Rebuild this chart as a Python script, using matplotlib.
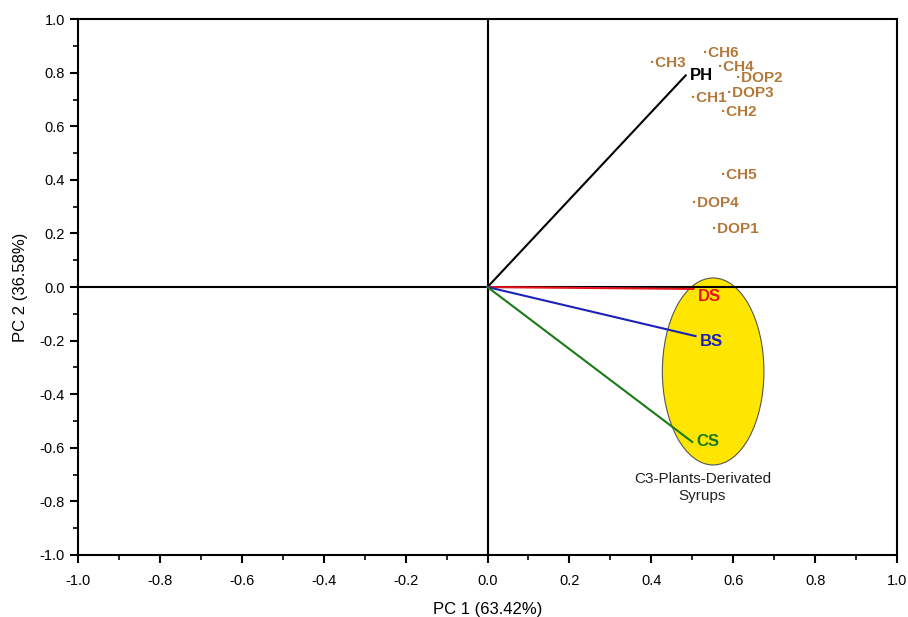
import matplotlib
matplotlib.use("Agg")
import matplotlib.pyplot as plt
from matplotlib.patches import Ellipse
from matplotlib.ticker import MultipleLocator

plt.rcParams['font.family'] = ['Liberation Sans', 'DejaVu Sans']

# loadings (brown labels)
var_names = ["CH3", "CH6", "CH4", "DOP2", "CH1", "DOP3", "CH2", "CH5", "DOP4", "DOP1"]
var_pc1 = [0.398, 0.527, 0.562, 0.606, 0.496, 0.586, 0.569, 0.571, 0.500, 0.547]
var_pc2 = [0.836, 0.873, 0.820, 0.780, 0.705, 0.724, 0.653, 0.420, 0.313, 0.216]

# vectors
vec_names = ["PH", "DS", "BS", "CS"]
vec_pc1 = [0.484, 0.503, 0.508, 0.500]
vec_pc2 = [0.790, -0.007, -0.183, -0.578]
vec_colors = ["black", "#e8121a", "#1a22b8", "#1a7a1a"]
label_dy = [0.0, -0.03, -0.02, 0.0]

# group ellipse
ell_center = (0.551, -0.315)
ell_w, ell_h = 0.248, 0.698

fig = plt.figure(figsize=(9.08, 6.17), dpi=100)
ax = fig.add_axes([0.0859, 0.1005, 0.902, 0.8685])

ax.add_patch(Ellipse(ell_center, ell_w, ell_h, facecolor="#ffe600",
                     edgecolor="#555555", lw=0.8, zorder=1))
ax.text(0.525, -0.69, "C3-Plants-Derivated\nSyrups", ha="center", va="top",
        fontsize=11, color="#222222", linespacing=1.3)

ax.axhline(0, color="black", lw=1.5, zorder=2)
ax.axvline(0, color="black", lw=1.5, zorder=2)

for n, x, y, c, dy in zip(vec_names, vec_pc1, vec_pc2, vec_colors, label_dy):
    ax.plot([0, x], [0, y], color=c, lw=1.5, zorder=3)
    ax.text(x + 0.01, y + dy, n, color=c, fontsize=12,
            fontweight="bold", ha="left", va="center", zorder=4)

for n, x, y in zip(var_names, var_pc1, var_pc2):
    ax.text(x, y, "\u00b7" + n, color="#b3773a", fontsize=11,
            fontweight="bold", ha="left", va="center", zorder=4)

ax.set_xlim(-1, 1)
ax.set_ylim(-1, 1)
ax.xaxis.set_major_locator(MultipleLocator(0.2))
ax.yaxis.set_major_locator(MultipleLocator(0.2))
ax.xaxis.set_minor_locator(MultipleLocator(0.1))
ax.yaxis.set_minor_locator(MultipleLocator(0.1))
ax.xaxis.set_major_formatter(matplotlib.ticker.FormatStrFormatter("%.1f"))
ax.yaxis.set_major_formatter(matplotlib.ticker.FormatStrFormatter("%.1f"))
ax.tick_params(which="major", direction="out", length=6, width=1.5, labelsize=10.5)
ax.tick_params(axis="x", which="major", pad=8)
ax.tick_params(which="minor", direction="out", length=3.5, width=1.2)
for s in ax.spines.values():
    s.set_linewidth(1.5)

ax.set_xlabel("PC 1 (63.42%)", fontsize=12, labelpad=10)
ax.set_ylabel("PC 2 (36.58%)", fontsize=12, labelpad=8)

fig.savefig("out.png", dpi=100)
